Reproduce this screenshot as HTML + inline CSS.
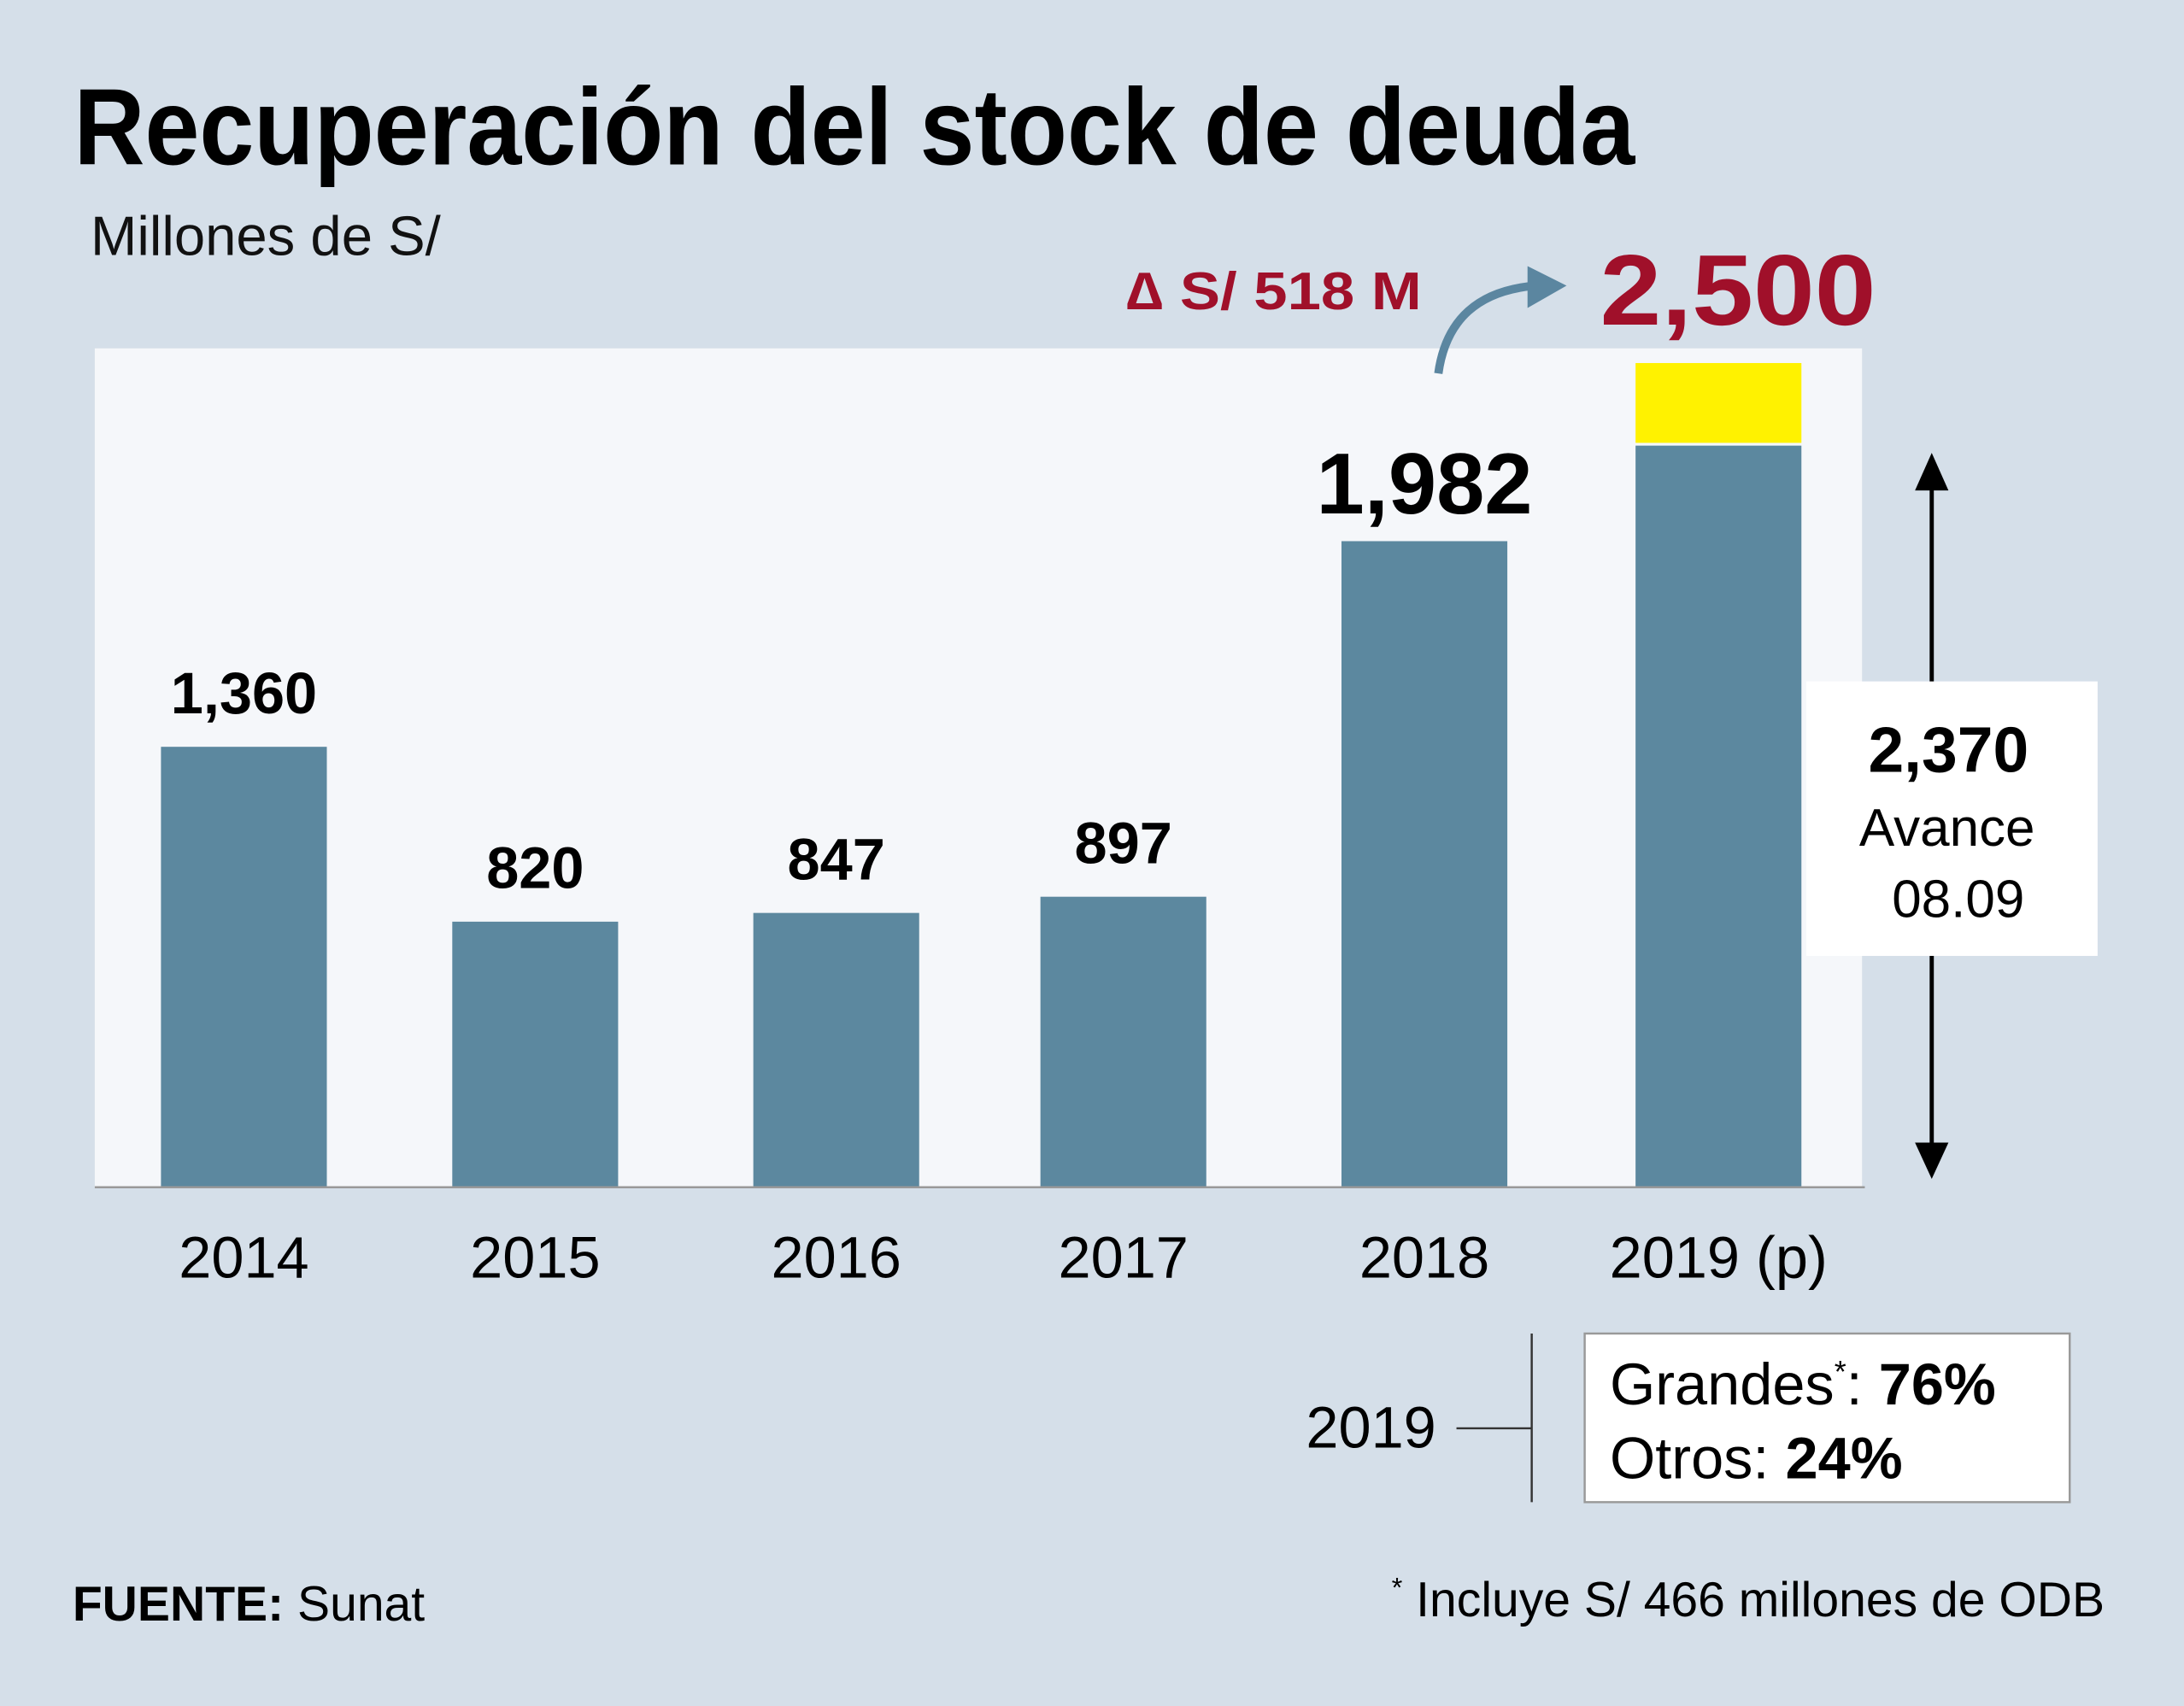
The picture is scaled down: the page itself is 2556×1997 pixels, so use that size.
<!DOCTYPE html>
<html><head><meta charset="utf-8"><style>
html,body{margin:0;padding:0;background:#d5dfe9;}
svg{display:block;font-family:"Liberation Sans",sans-serif;}
</style></head><body>
<svg width="2556" height="1997" viewBox="0 0 1567 1224.3" preserveAspectRatio="none" xmlns="http://www.w3.org/2000/svg">
<rect x="0" y="0" width="1567" height="1225" fill="#d5dfe9"/>
<text x="53" y="118" font-size="78" font-weight="bold" textLength="1120" lengthAdjust="spacingAndGlyphs" fill="#000">Recuperación del stock de deuda</text>
<text x="65" y="183" font-size="40" fill="#111">Millones de S/</text>
<rect x="68" y="250" width="1268" height="602" fill="#f5f7fa"/>
<g id="bars"></g>
<line x1="68" y1="852" x2="1338" y2="852" stroke="#999" stroke-width="1.5"/>
<text x="808" y="222" font-size="38" font-weight="bold" fill="#a0102a" textLength="212" lengthAdjust="spacingAndGlyphs">∆ S/ 518 M</text>
<path d="M1032,268 Q1040,210 1102,205" fill="none" stroke="#5b86a0" stroke-width="6"/>
<polygon points="1096,191 1124,205 1096,221" fill="#5b86a0"/>
<text x="1148" y="233" font-size="72" font-weight="bold" fill="#a0102a" textLength="198" lengthAdjust="spacingAndGlyphs">2,500</text>
<line x1="1386" y1="345" x2="1386" y2="825" stroke="#000" stroke-width="3"/>
<polygon points="1374,352 1386,325 1398,352" fill="#000"/>
<polygon points="1374,820 1386,846 1398,820" fill="#000"/>
<rect x="1296" y="489" width="209" height="197" fill="#fff"/>
<text x="1398" y="554" font-size="46" font-weight="bold" text-anchor="middle">2,370</text>
<text x="1397" y="607" font-size="38" text-anchor="middle">Avance</text>
<text x="1405" y="658" font-size="38" text-anchor="middle">08.09</text>
<g id="years"></g>
<text x="937" y="1039" font-size="42">2019</text>
<line x1="1045" y1="1025" x2="1099" y2="1025" stroke="#333" stroke-width="1.5"/>
<line x1="1099" y1="957" x2="1099" y2="1078" stroke="#333" stroke-width="1.5"/>
<rect x="1137" y="957" width="348" height="121" fill="#fff" stroke="#999" stroke-width="1.5"/>
<text x="1155" y="1008" font-size="42">Grandes<tspan font-size="22" dy="-16">*</tspan><tspan dy="16">: </tspan><tspan font-weight="bold">76%</tspan></text>
<text x="1155" y="1061" font-size="42">Otros: <tspan font-weight="bold">24%</tspan></text>
<text x="52" y="1163" font-size="35"><tspan font-weight="bold">FUENTE:</tspan> Sunat</text>
<text x="1510" y="1160" font-size="35" text-anchor="end"><tspan font-size="20" dy="-14">*</tspan><tspan dy="14"> Incluye S/ 466 millones de ODB</tspan></text>
</svg>
<script>
const categories = ["2014","2015","2016","2017","2018","2019 (p)"];
const values = [1360,820,847,897,1995,2290];
const valueLabels = ["1,360","820","847","897","1,982",""];
const extraValues = [0,0,0,0,0,255];
const centers = [175,384,600,806,1022,1233];
const NS="http://www.w3.org/2000/svg";
const base=852, k=0.2324, bw=119;
function y(v){return base - v*k;}
const gb=document.getElementById('bars'), gy=document.getElementById('years');
categories.forEach((c,i)=>{
  const cx=centers[i];
  const r=document.createElementNS(NS,'rect');
  r.setAttribute('x',cx-bw/2); r.setAttribute('y',y(values[i]));
  r.setAttribute('width',bw); r.setAttribute('height',base-y(values[i]));
  r.setAttribute('fill','#5c889f');
  
  
  gb.appendChild(r);
  if(extraValues[i]>0){
    const e=document.createElementNS(NS,'rect');
    const top=y(values[i]+extraValues[i]);
    e.setAttribute('x',cx-bw/2); e.setAttribute('y',top);
    e.setAttribute('width',bw); e.setAttribute('height',y(values[i])-top-2);
    e.setAttribute('fill','#fff200');
    
    
    gb.appendChild(e);
  }
  if(valueLabels[i]){
    const t=document.createElementNS(NS,'text');
    const big=i===4;
    t.setAttribute('x',cx); t.setAttribute('y',y(values[i])-(big?20:24));
    t.setAttribute('font-size',big?62:42); t.setAttribute('font-weight','bold');
    t.setAttribute('text-anchor','middle');
    t.textContent=valueLabels[i];
    
    
    gb.appendChild(t);
  }
  const yt=document.createElementNS(NS,'text');
  yt.setAttribute('x',cx); yt.setAttribute('y',917);
  yt.setAttribute('font-size',42); yt.setAttribute('text-anchor','middle');
  yt.textContent=c;
  
  
  gy.appendChild(yt);
});
</script>
</body></html>
